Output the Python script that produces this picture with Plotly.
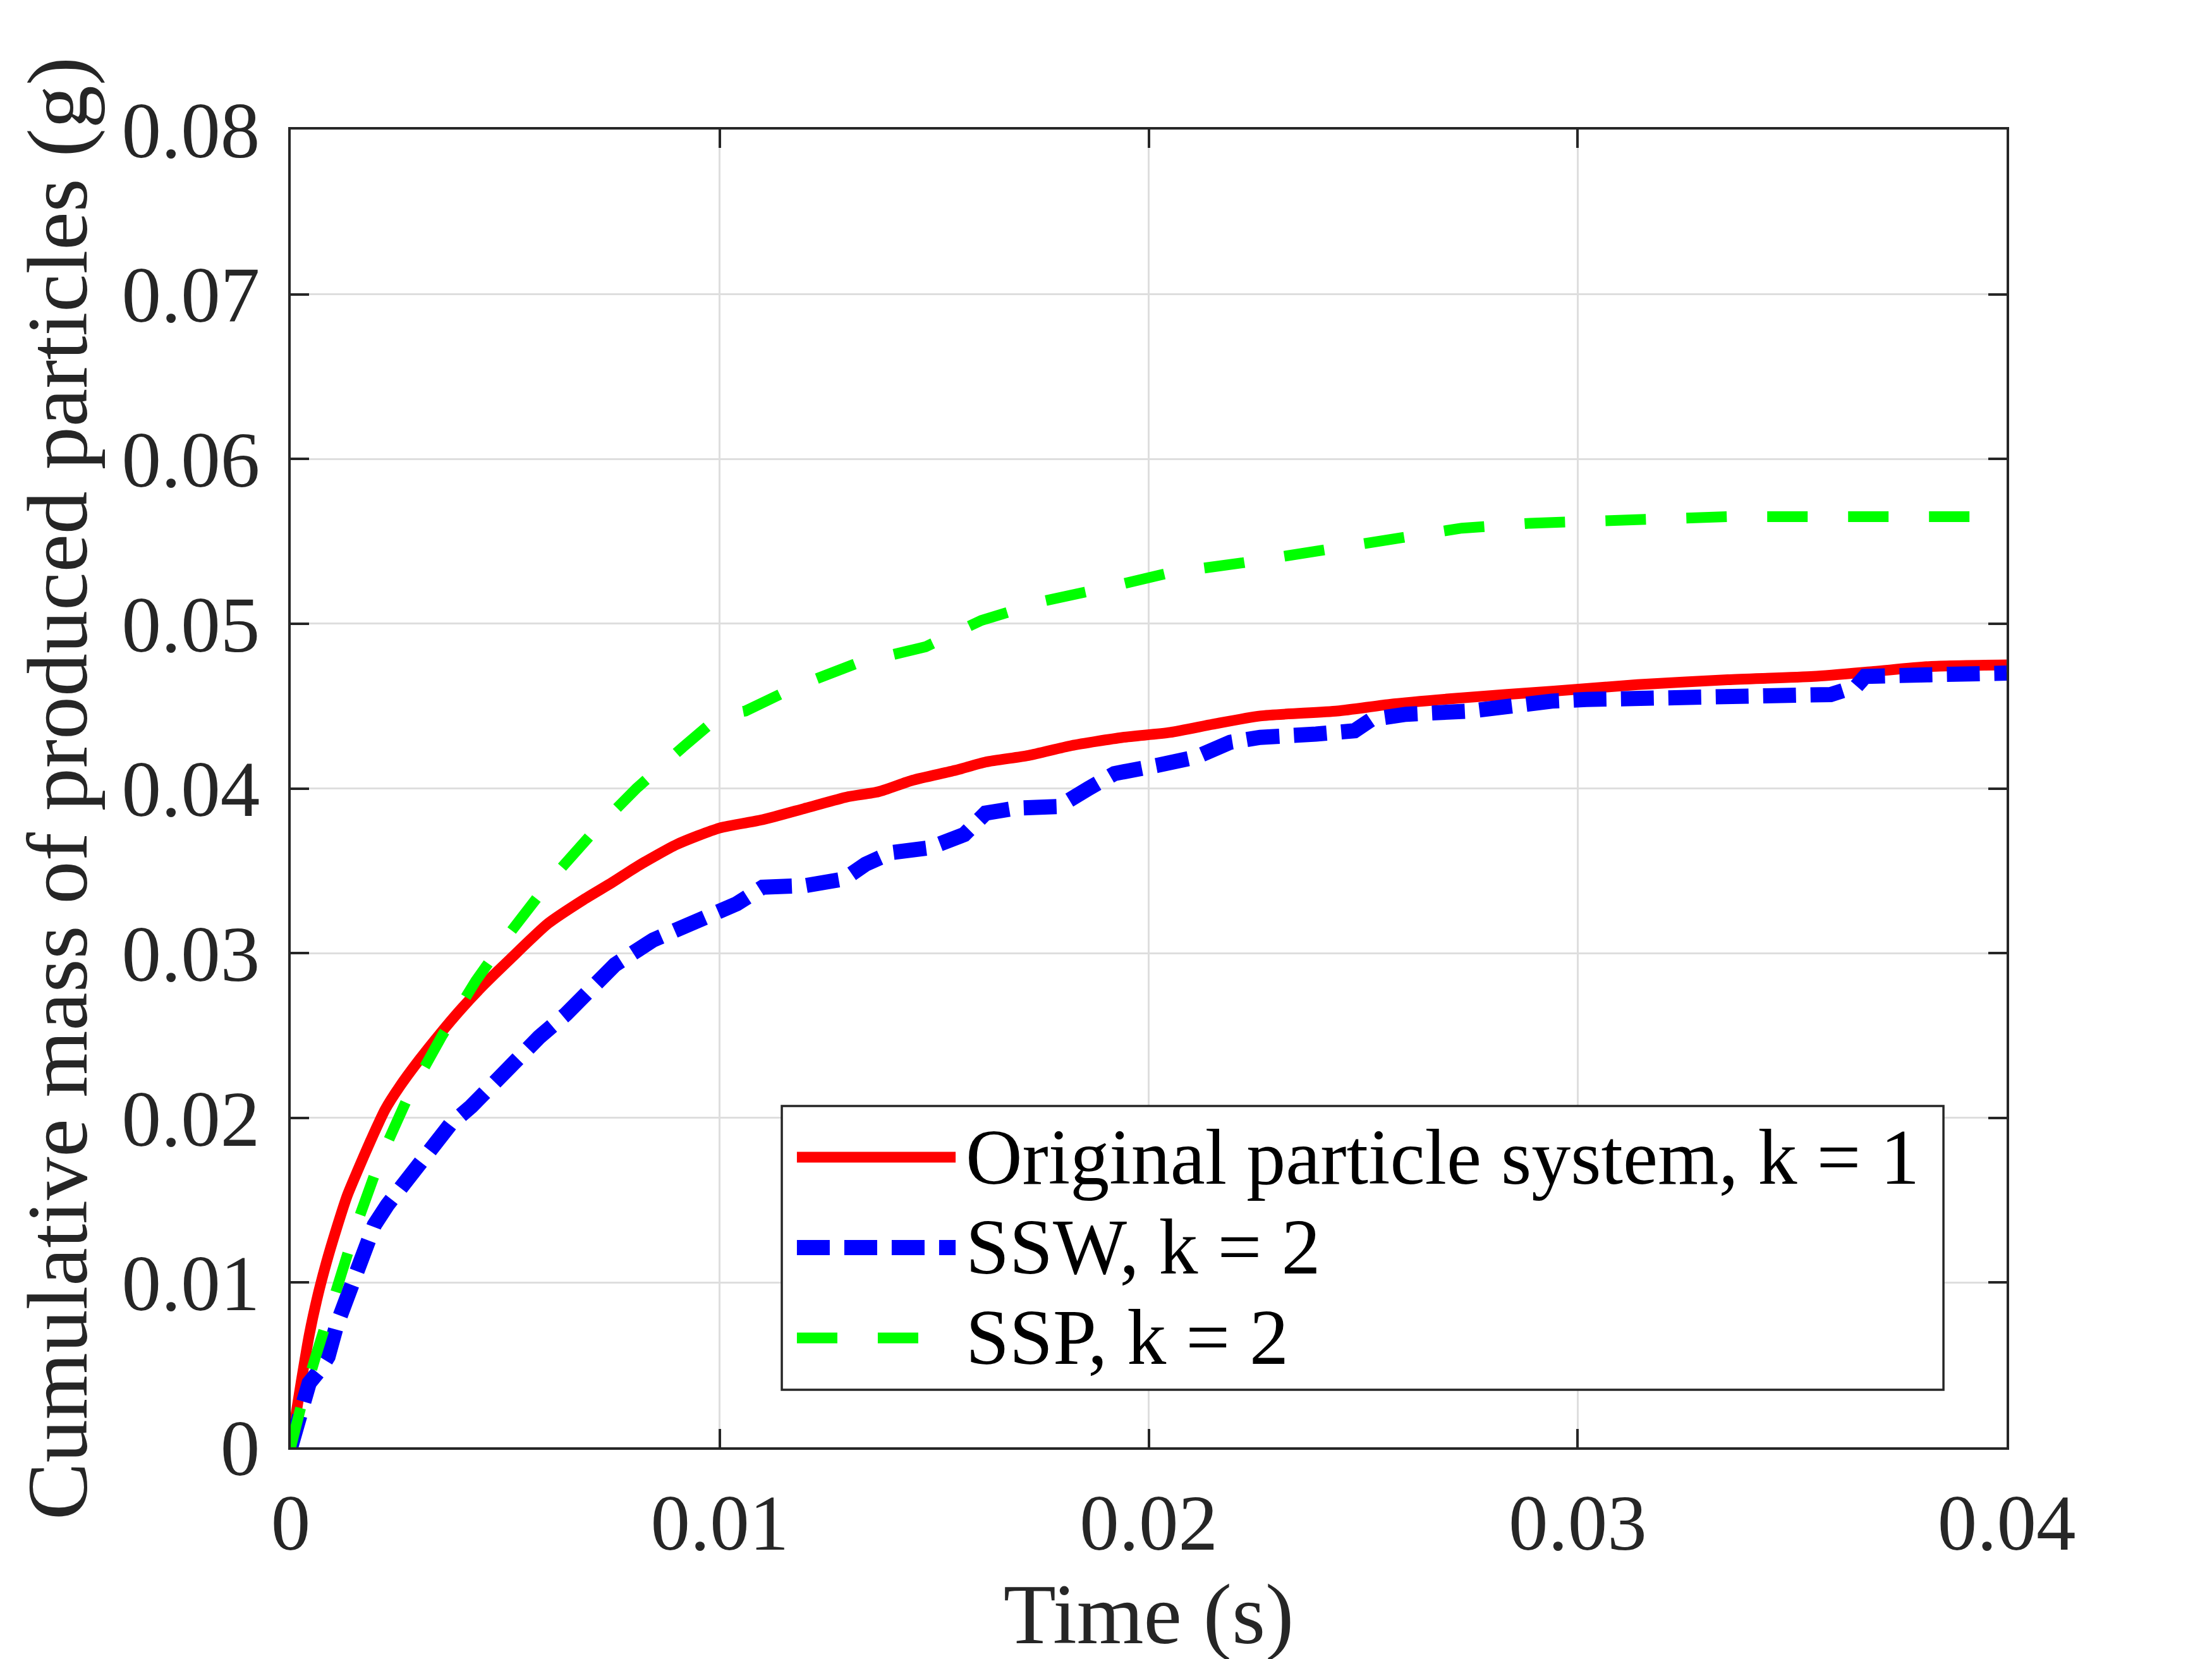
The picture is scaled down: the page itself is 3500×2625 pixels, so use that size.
import plotly.graph_objects as go

# curves (time in s, cumulative mass in g)
t_orig = [0, 0.00024, 0.00043, 0.00063, 0.00083, 0.00107, 0.00132, 0.00156, 0.00186, 0.0022,
          0.00254, 0.00299, 0.00348, 0.00397, 0.00451, 0.0051, 0.006, 0.0068, 0.0075, 0.0081,
          0.009, 0.01, 0.011, 0.012, 0.013, 0.0137, 0.0145, 0.0155, 0.0162, 0.0172,
          0.0182, 0.0194, 0.0205, 0.0215, 0.0226, 0.0244, 0.0256, 0.0273, 0.0294, 0.0314,
          0.0335, 0.0355, 0.0369, 0.0382, 0.04]
m_orig = [0, 0.0039, 0.0068, 0.0092, 0.0112, 0.0133, 0.0153, 0.0168, 0.0186, 0.0205,
          0.0219, 0.0235, 0.0251, 0.0266, 0.0281, 0.0296, 0.0318, 0.0332, 0.0343, 0.0353,
          0.0366, 0.0376, 0.0381, 0.0388, 0.0395, 0.0398, 0.0405, 0.0411, 0.0416, 0.042,
          0.0426, 0.0431, 0.0434, 0.0439, 0.0444, 0.0447, 0.0451, 0.0455, 0.0459, 0.0463,
          0.0466, 0.0468, 0.0471, 0.0474, 0.0475]

t_ssw = [0, 0.00005, 0.00028, 0.00043, 0.00068, 0.00087, 0.00107, 0.00127, 0.00151, 0.00176,
         0.00195, 0.00225, 0.00264, 0.00323, 0.00372, 0.00421, 0.0047, 0.0052, 0.00579, 0.00642,
         0.00716, 0.00756, 0.00845, 0.00954, 0.0104, 0.011, 0.012, 0.0129, 0.0134, 0.014,
         0.0149, 0.0157, 0.0162, 0.0169, 0.0179, 0.0186, 0.0192, 0.0202, 0.0211, 0.0219,
         0.0226, 0.0239, 0.0248, 0.0252, 0.026, 0.0275, 0.0286, 0.0294, 0.0302, 0.0317,
         0.0329, 0.0348, 0.0359, 0.0365, 0.0367, 0.0382, 0.04]
m_ssw = [0, 0.0005, 0.0025, 0.0039, 0.0047, 0.0055, 0.0074, 0.0088, 0.0104, 0.0119,
         0.0135, 0.0147, 0.016, 0.018, 0.0196, 0.0207, 0.0221, 0.0235, 0.0249, 0.0263,
         0.0282, 0.0293, 0.0308, 0.0319, 0.033, 0.034, 0.0341, 0.0345, 0.0354, 0.0361,
         0.0364, 0.0372, 0.0385, 0.0388, 0.0389, 0.04, 0.0409, 0.0414, 0.0419, 0.0428,
         0.0431, 0.0433, 0.0435, 0.0442, 0.0445, 0.0447, 0.0451, 0.0453, 0.0454, 0.0455,
         0.0456, 0.0456, 0.0457, 0.0462, 0.0468, 0.0469, 0.047]

t_ssp = [0, 0.00014, 0.00028, 0.00058, 0.00107, 0.00156, 0.0021, 0.00274, 0.00353, 0.00431,
         0.0051, 0.00608, 0.00707, 0.00806, 0.00914, 0.01, 0.0106, 0.0118, 0.0132, 0.0148,
         0.0161, 0.0176, 0.0192, 0.0205, 0.0222, 0.0239, 0.0256, 0.0273, 0.0289, 0.0308,
         0.033, 0.0335, 0.04]
m_ssp = [0, 0.0018, 0.0029, 0.0055, 0.0096, 0.0137, 0.0176, 0.0213, 0.025, 0.0283,
         0.0312, 0.0345, 0.0374, 0.04, 0.0425, 0.0444, 0.0447, 0.0462, 0.0476, 0.0486,
         0.0502, 0.0514, 0.0523, 0.0531, 0.0537, 0.0544, 0.055, 0.0558, 0.0561, 0.0563,
         0.0564, 0.0565, 0.0565]

names = ["Original particle system, k = 1", "SSW, k = 2", "SSP, k = 2"]
colors = ["#ff0000", "#0000ff", "#00ff00"]
widths = [17, 24, 17]
dashes = ["solid", "52px,23px", "64px,64px"]
shapes = ["spline", "linear", "linear"]

x_ticks = [0, 0.01, 0.02, 0.03, 0.04]
x_labels = ["0", "0.01", "0.02", "0.03", "0.04"]
y_ticks = [0, 0.01, 0.02, 0.03, 0.04, 0.05, 0.06, 0.07, 0.08]
y_labels = ["0", "0.01", "0.02", "0.03", "0.04", "0.05", "0.06", "0.07", "0.08"]

FONT = "Liberation Serif, Times New Roman, serif"
INK = "#262626"

fig = go.Figure()
series = [(t_orig, m_orig), (t_ssw, m_ssw), (t_ssp, m_ssp)]
for (tx, my), name, c, w, d, s in zip(series, names, colors, widths, dashes, shapes):
    fig.add_trace(go.Scatter(x=tx, y=my, mode="lines", name=name,
                             line=dict(color=c, width=w, dash=d, shape=s, smoothing=0.6)))

# legend drawn by hand so the line samples are as long as in the original
lx0, lx1 = 0.2862, 0.9632
ly0, ly1 = 0.0436, 0.2590
rows = [0.2201, 0.1516, 0.0830]
fig.add_shape(type="rect", xref="paper", yref="paper", x0=lx0, x1=lx1, y0=ly0, y1=ly1,
              line=dict(color=INK, width=3.5), fillcolor="white", layer="above")
for yy, name, c, w, d in zip(rows, names, colors, widths, dashes):
    fig.add_shape(type="line", xref="paper", yref="paper", x0=0.2950, x1=0.3875, y0=yy, y1=yy,
                  line=dict(color=c, width=w, dash=d), layer="above")
    fig.add_annotation(xref="paper", yref="paper", x=0.3925, y=yy, text=name, showarrow=False,
                       xanchor="left", yanchor="middle", font=dict(family=FONT, size=124, color="black"))

axis_common = dict(showline=True, linecolor=INK, linewidth=3.5, mirror="ticks",
                   ticks="inside", ticklen=29, tickwidth=3.5, tickcolor=INK,
                   showgrid=True, gridcolor="#dedede", gridwidth=3, zeroline=False,
                   tickfont=dict(family=FONT, size=125, color=INK), automargin=False)

fig.update_xaxes(range=[0, 0.04], tickvals=x_ticks, ticktext=x_labels,
                 title=dict(text="Time (s)", font=dict(family=FONT, size=136, color=INK), standoff=8),
                 ticklabelstandoff=8, **axis_common)
fig.update_yaxes(range=[0, 0.08], tickvals=y_ticks, ticktext=y_labels,
                 title=dict(text="Cumulative mass of produced particles (g)",
                            font=dict(family=FONT, size=136, color=INK), standoff=10),
                 ticklabelstandoff=20, **axis_common)

fig.update_layout(width=3500, height=2625, showlegend=False,
                  margin=dict(l=452, r=333, t=197, b=343),
                  plot_bgcolor="white", paper_bgcolor="white")

fig.write_html("out.html")
